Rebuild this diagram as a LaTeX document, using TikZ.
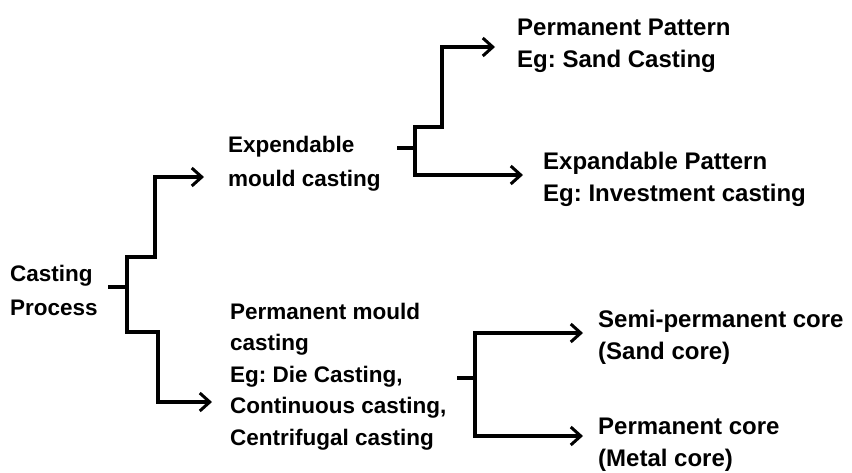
\documentclass[tikz,border=0pt]{standalone}
\usepackage{fontspec}
\setmainfont{Liberation Sans}
\usetikzlibrary{arrows.meta}
\frenchspacing
\begin{document}
\begin{tikzpicture}[x=1pt,y=-1pt,
  lbl/.style={anchor=base west,inner sep=0pt,align=left},
  lft/.style={lbl,font=\fontsize{22.5}{32}\selectfont\bfseries},
  rgt/.style={lbl,font=\fontsize{24}{32}\selectfont\bfseries},
  conn/.style={line width=3.4pt,line join=miter},
  arr/.style={conn,-{Straight Barb[length=10pt,width=18pt,line width=3pt]}}]
\useasboundingbox (0,0) rectangle (852,472);
% texts (anchor = baseline of last line)
\node[lft,font=\fontsize{22.5}{34}\selectfont\bfseries] (cp) at (10,315) {Casting\\Process};
\node[lft,font=\fontsize{22.5}{34}\selectfont\bfseries] (exp) at (228,186) {Expendable\\mould casting};
\node[lft,font=\fontsize{22.5}{31.5}\selectfont\bfseries] (pmc) at (230,445) {Permanent mould\\casting\\Eg: Die Casting,\\Continuous casting,\\Centrifugal casting};
\node[rgt] (pp) at (517,67) {Permanent Pattern\\Eg: Sand Casting};
\node[rgt] (ep) at (543,201) {Expandable Pattern\\Eg: Investment casting};
\node[rgt,font=\fontsize{24}{32}\selectfont\bfseries] (sp) at (598,359) {Semi-permanent core\\(Sand core)};
\node[rgt,font=\fontsize{24}{32}\selectfont\bfseries] (pc) at (598,466) {Permanent core\\(Metal core)};
% junctions
\coordinate (j1) at (127,287);
\coordinate (j1a) at (155,257);
\coordinate (j1b) at (158,332);
\coordinate (t1a) at (204,177);
\coordinate (t1b) at (212,402);
\coordinate (j2) at (415,148);
\coordinate (j2a) at (442,127);
\coordinate (t2a) at (495,47);
\coordinate (t2b) at (523,175);
\coordinate (j3) at (475,378);
\coordinate (t3a) at (583,333);
\coordinate (t3b) at (583,436);
% connectors
\draw[conn] (108,287) -- (j1);
\draw[arr] (j1) |- (j1a) |- (t1a);
\draw[arr] (j1) |- (j1b) |- (t1b);
\draw[conn] (397,148) -- (j2);
\draw[arr] (j2) |- (j2a) |- (t2a);
\draw[arr] (j2) |- (t2b);
\draw[conn] (457,378) -- (j3);
\draw[arr] (j3) |- (t3a);
\draw[arr] (j3) |- (t3b);
\end{tikzpicture}
\end{document}
